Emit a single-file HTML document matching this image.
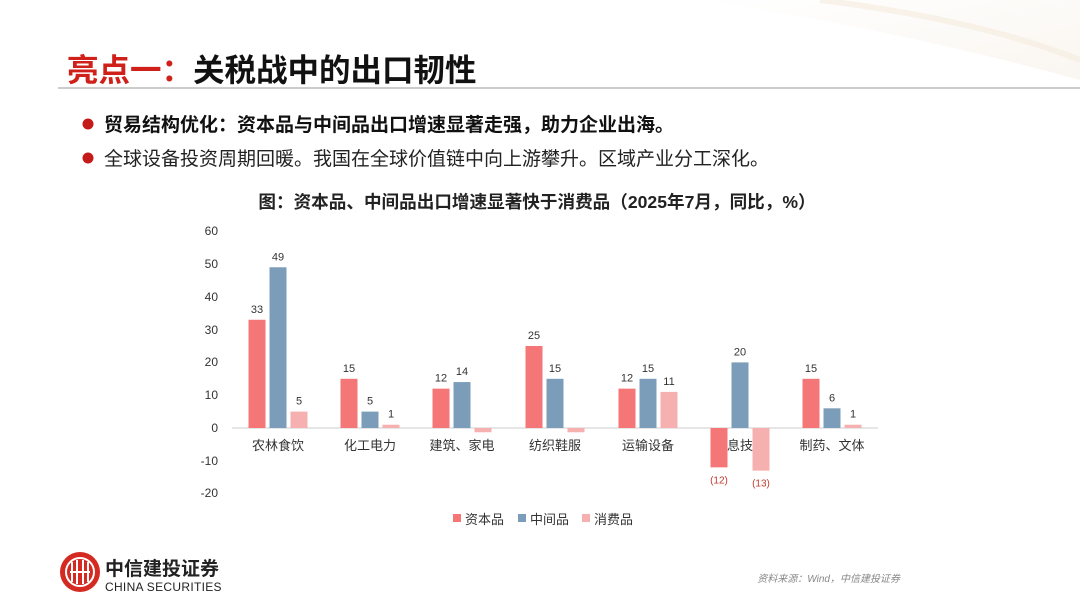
<!DOCTYPE html>
<html><head><meta charset="utf-8"><style>
body{margin:0;width:1080px;height:608px;overflow:hidden;background:#fff;font-family:"Liberation Sans","Noto Sans CJK SC",sans-serif;}
</style></head><body>
<svg width="1080" height="608" viewBox="0 0 1080 608" xmlns="http://www.w3.org/2000/svg" font-family="Liberation Sans, Noto Sans CJK SC, sans-serif">
<defs><linearGradient id="sw" x1="0" y1="0" x2="1" y2="1"><stop offset="0" stop-color="#fff"/><stop offset="1" stop-color="#f8f2ea"/></linearGradient></defs>
<path d="M700,0 Q900,30 1080,80 L1080,0 Z" fill="url(#sw)" opacity="0.7"/>
<path d="M820,0 Q980,20 1080,60" stroke="#f5ebde" stroke-width="6" fill="none" opacity="0.6"/>
<text x="67" y="81" font-size="31.5" font-weight="bold" fill="#d0201a">亮点一：<tspan fill="#111">关税战中的出口韧性</tspan></text>
<line x1="58" y1="88" x2="1080" y2="88" stroke="#999" stroke-width="1"/>
<circle cx="88" cy="124" r="5.5" fill="#c41a1a"/>
<text x="104" y="131" font-size="19" font-weight="bold" fill="#111">贸易结构优化：资本品与中间品出口增速显著走强，助力企业出海。</text>
<circle cx="88" cy="158" r="5.5" fill="#c41a1a"/>
<text x="104" y="165" font-size="19" fill="#222">全球设备投资周期回暖。我国在全球价值链中向上游攀升。区域产业分工深化。</text>
<text x="537" y="208" font-size="17.6" font-weight="bold" fill="#222" text-anchor="middle">图：资本品、中间品出口增速显著快于消费品（2025年7月，同比，%）</text>
<g font-size="12" fill="#333" text-anchor="end">
<text x="218" y="235">60</text><text x="218" y="268">50</text><text x="218" y="301">40</text><text x="218" y="334">30</text><text x="218" y="366">20</text><text x="218" y="399">10</text><text x="218" y="432">0</text><text x="218" y="465">-10</text><text x="218" y="497">-20</text>
</g>
<line x1="232" y1="428" x2="878" y2="428" stroke="#ccc" stroke-width="1"/>
<g font-size="13" fill="#333" text-anchor="middle">
<text x="278" y="450">农林食饮</text><text x="370" y="450">化工电力</text><text x="462" y="450">建筑、家电</text><text x="555" y="450">纺织鞋服</text><text x="648" y="450">运输设备</text><text x="740" y="450">信息技术</text><text x="832" y="450">制药、文体</text>
</g>
<g id="bars"></g>
<g font-size="13" fill="#333" text-anchor="middle" id="lbl"></g>
<rect x="453" y="514" width="8" height="8" fill="#f47676"/><text x="465" y="524" font-size="13" fill="#333">资本品</text>
<rect x="518" y="514" width="8" height="8" fill="#7b9db9"/><text x="530" y="524" font-size="13" fill="#333">中间品</text>
<rect x="582" y="514" width="8" height="8" fill="#f7b0b0"/><text x="594" y="524" font-size="13" fill="#333">消费品</text>
<circle cx="80" cy="572" r="20" fill="#d42a22"/>
<circle cx="80" cy="572" r="14" fill="none" stroke="#fff" stroke-width="2"/>
<path d="M72,562 V582 M77,560 V584 M83,560 V584 M88,562 V582 M70,572 H90" stroke="#fff" stroke-width="2"/>
<text x="105" y="575" font-size="19" font-weight="bold" fill="#222">中信建投证券</text>
<text x="105" y="591" font-size="12" fill="#222" letter-spacing="0.3">CHINA SECURITIES</text>
<text x="900" y="582" font-size="10" fill="#888" font-style="italic" text-anchor="end">资料来源：Wind，中信建投证券</text>
</svg>
<script>
var d=[[33,49,5],[15,5,1],[12,14,-1.3],[25,15,-1.3],[12,15,11],[-12,20,-13],[15,6,1]];
var lab=[["33","49","5"],["15","5","1"],["12","14",""],["25","15",""],["12","15","11"],["(12)","20","(13)"],["15","6","1"]];
var cols=["#f47676","#7b9db9","#f7b0b0"],c=[278,370,462,555,648,740,832],k=3.28;
var b=document.getElementById("bars"),l=document.getElementById("lbl"),ns="http://www.w3.org/2000/svg";
d.forEach(function(g,i){g.forEach(function(v,j){var x=c[i]+(j-1)*21-8.5,h=Math.abs(v)*k,y=v>=0?428-h:428;
var r=document.createElementNS(ns,"rect");r.setAttribute("x",x);r.setAttribute("y",y);r.setAttribute("width",17);r.setAttribute("height",h);r.setAttribute("fill",cols[j]);b.appendChild(r);
if(lab[i][j]){var t=document.createElementNS(ns,"text");t.setAttribute("x",x+8.5);t.setAttribute("y",v>=0?y-7:y+h+16);t.setAttribute("font-size",v>=0?"11":"10");if(v<0)t.setAttribute("fill","#c0392b");t.textContent=lab[i][j];l.appendChild(t);}});});
</script>
</body></html>
